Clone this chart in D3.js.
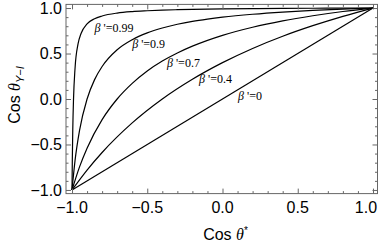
<!DOCTYPE html>
<html>
<head>
<meta charset="utf-8">
<script src="https://cdn.jsdelivr.net/npm/d3@7"></script>
<style>
  body { margin: 0; background: #fff; }
  svg { display: block; }
</style>
</head>
<body>
<svg id="chart"></svg>
<script>
// Chart size
const W = 382, H = 245;

// Curve data (cos theta*, cos theta_Y-I)
const curveNames = ["0.99", "0.9", "0.7", "0.4", "0"];
const x099 = [-1, -0.998, -0.995, -0.99, -0.98, -0.96, -0.94, -0.9, -0.85, -0.8, -0.7, -0.6, -0.5, -0.4, -0.3, -0.2, 0, 0.2, 0.4, 0.6, 0.8, 1];
const y099 = [-1, -0.668, -0.334, 0, 0.336, 0.605, 0.72, 0.826, 0.883, 0.913, 0.945, 0.961, 0.97, 0.977, 0.9815, 0.985, 0.99, 0.9933, 0.9957, 0.9975, 0.9989, 1];
const x09 = [-1, -0.98, -0.95, -0.9, -0.85, -0.8, -0.7, -0.6, -0.5, -0.4, -0.3, -0.2, -0.1, 0, 0.2, 0.4, 0.6, 0.8, 1];
const y09 = [-1, -0.678, -0.345, 0, 0.213, 0.357, 0.541, 0.652, 0.727, 0.781, 0.822, 0.854, 0.879, 0.9, 0.932, 0.956, 0.974, 0.988, 1];
const x07 = [-1, -0.95, -0.9, -0.8, -0.7, -0.6, -0.5, -0.4, -0.3, -0.2, 0, 0.2, 0.4, 0.6, 0.8, 1];
const y07 = [-1, -0.746, -0.541, -0.227, 0, 0.172, 0.308, 0.417, 0.506, 0.581, 0.7, 0.789, 0.859, 0.915, 0.962, 1];
const x04 = [-1, -0.9, -0.8, -0.6, -0.4, -0.2, 0, 0.2, 0.4, 0.6, 0.8, 1];
const y04 = [-1, -0.781, -0.588, -0.263, 0, 0.217, 0.4, 0.556, 0.69, 0.806, 0.909, 1];
const x0 = [-1, 1];
const y0 = [-1, 1];

// Label anchor positions (data coords)
const labelX = [-0.85, -0.6, -0.369, -0.156, 0.103];
const labelY = [0.736, 0.56, 0.352, 0.176, -0.011];

// Tick values
const majorTicks = [-1, -0.5, 0, 0.5, 1];
const minorTicks = d3.range(-10, 11).map(i => i / 10).filter(v => !majorTicks.includes(v));

const svg = d3.select("#chart").attr("width", W).attr("height", H);

// Scales (frame slightly wider than the data range)
const x = d3.scaleLinear().domain([-1.04, 1.03]).range([66, 377.5]);
const y = d3.scaleLinear().domain([-1.04, 1.04]).range([193.6, 4.4]);
const x0px = x(-1.04), x1px = x(1.03), y0px = y(-1.04), y1px = y(1.04);

const frameColor = "#666";
const sans = "Liberation Sans, Arial, sans-serif";
const serif = "Liberation Serif, Times New Roman, serif";

// Curves
const series = [[x099, y099], [x09, y09], [x07, y07], [x04, y04], [x0, y0]];
const line = d3.line().x(d => x(d[0])).y(d => y(d[1])).curve(d3.curveMonotoneX);
series.forEach(s => {
    svg.append("path")
        .datum(s[0].map((v, i) => [v, s[1][i]]))
        .attr("d", line)
        .attr("fill", "none")
        .attr("stroke", "#000")
        .attr("stroke-width", 1.2);
});

// Ticks on all four sides, pointing inward
function addAxis(axisFn, scale, transform, ticks, size) {
    const g = svg.append("g")
        .attr("transform", transform)
        .call(axisFn(scale).tickValues(ticks).tickSize(-size).tickFormat(""));
    g.select(".domain").remove();
    g.selectAll("line").attr("stroke", frameColor);
}
addAxis(d3.axisBottom, x, `translate(0,${y0px})`, majorTicks, 5);
addAxis(d3.axisBottom, x, `translate(0,${y0px})`, minorTicks, 2.5);
addAxis(d3.axisTop, x, `translate(0,${y1px})`, majorTicks, 5);
addAxis(d3.axisTop, x, `translate(0,${y1px})`, minorTicks, 2.5);
addAxis(d3.axisLeft, y, `translate(${x0px},0)`, majorTicks, 5);
addAxis(d3.axisLeft, y, `translate(${x0px},0)`, minorTicks, 2.5);
addAxis(d3.axisRight, y, `translate(${x1px},0)`, majorTicks, 5);
addAxis(d3.axisRight, y, `translate(${x1px},0)`, minorTicks, 2.5);

// Frame
svg.append("rect")
    .attr("x", x0px).attr("y", y1px)
    .attr("width", x1px - x0px).attr("height", y0px - y1px)
    .attr("fill", "none")
    .attr("stroke", frameColor)
    .attr("stroke-width", 1);

// Tick labels (last x label pulled in so it stays inside the picture)
const fmt = v => d3.format(".1f")(v).replace("-", "\u2212");
svg.append("g").selectAll("text")
    .data(majorTicks).enter().append("text")
    .attr("x", d => d === 1 ? x(d) - 7 : x(d)).attr("y", 213)
    .attr("text-anchor", "middle")
    .style("font-family", sans)
    .style("font-size", "16px")
    .text(fmt);
svg.append("g").selectAll("text")
    .data(majorTicks).enter().append("text")
    .attr("x", 62).attr("y", d => y(d))
    .attr("dy", "0.36em")
    .attr("text-anchor", "end")
    .style("font-family", sans)
    .style("font-size", "16px")
    .text(fmt);

// Axis titles
const xt = svg.append("text")
    .attr("x", x(0) + 3).attr("y", 240)
    .attr("text-anchor", "middle")
    .style("font-family", sans)
    .style("font-size", "16px");
xt.append("tspan").text("Cos ");
xt.append("tspan").style("font-family", serif).style("font-style", "italic").text("\u03B8");
xt.append("tspan").attr("dy", -6).style("font-size", "10px").text("*");

const yt = svg.append("text")
    .attr("transform", `translate(20,${y(0) - 4}) rotate(-90)`)
    .attr("text-anchor", "middle")
    .style("font-family", sans)
    .style("font-size", "16px");
yt.append("tspan").text("Cos ");
yt.append("tspan").style("font-family", serif).style("font-style", "italic").text("\u03B8");
yt.append("tspan").attr("dy", 4).style("font-size", "11px").style("font-style", "italic").text("Y\u2212I");

// Curve labels
curveNames.forEach((name, i) => {
    const t = svg.append("text")
        .attr("x", x(labelX[i])).attr("y", y(labelY[i]))
        .style("font-family", serif)
        .style("font-size", "12px");
    t.append("tspan").style("font-style", "italic").text("\u03B2");
    t.append("tspan").text(" '=" + name);
});
</script>
</body>
</html>
